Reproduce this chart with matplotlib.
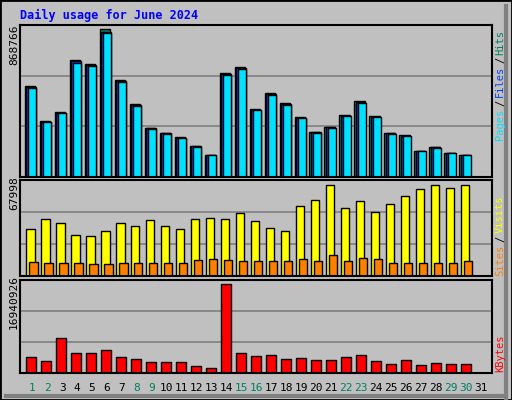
import numpy as np
import matplotlib
matplotlib.use("Agg")
import matplotlib.pyplot as plt

# ---------------- DATA ----------------
days = list(range(1, 32))
hits = [538000, 331000, 384000, 691000, 668000, 868766, 573000, 431000, 290000, 260000,
        236000, 183000, 130000, 615000, 650000, 402000, 496000, 437000, 355000, 266000,
        296000, 366000, 449000, 360000, 260000, 248000, 154000, 177000, 142000, 130000, 0]
files = [h * 0.985 for h in hits]
pages = [h * 0.975 for h in hits]
visits = [35000, 43000, 40000, 30500, 30000, 33600, 39500, 37400, 41800, 37400,
          35000, 42500, 43200, 42500, 47000, 41000, 36000, 33600, 52300, 56800,
          67998, 51000, 56000, 47800, 53800, 59700, 65600, 68000, 66400, 68000, 0]
sites = [10500, 10000, 10000, 10000, 9000, 9000, 10000, 9500, 9500, 9500,
         10000, 12000, 13000, 12000, 11000, 11000, 11000, 11000, 13000, 11000,
         16000, 11000, 13500, 13000, 10000, 10000, 9500, 10000, 10000, 11000, 0]
kbytes = [3080000, 2310000, 6740000, 3850000, 3850000, 4430000, 3080000, 2700000, 2120000, 2120000,
          2120000, 1350000, 960000, 16940926, 3850000, 3270000, 3470000, 2700000, 2890000, 2500000,
          2500000, 3080000, 3470000, 2310000, 1730000, 2500000, 1540000, 1920000, 1730000, 1730000, 0]
weekend = {1, 2, 8, 9, 15, 16, 22, 23, 29, 30}

W, H = 512, 400
BG = "#C0C0C0"
fig = plt.figure(figsize=(W / 100, H / 100), dpi=100, facecolor=BG)

def px_axes(x0, y0, x1, y1):
    ax = fig.add_axes([x0 / W, 1 - y1 / H, (x1 - x0) / W, (y1 - y0) / H])
    ax.set_facecolor(BG)
    ax.set_xlim(0.25, 31.75)
    ax.set_xticks([])
    ax.set_yticks([])
    for s in ax.spines.values():
        s.set_color("black")
        s.set_linewidth(1.5)
    return ax

x = np.array(days)

# top panel
ax1 = px_axes(20, 25, 492, 177)
ymax1 = max(hits) * 1.03
ax1.set_ylim(0, ymax1)
for g in (ymax1 / 3, 2 * ymax1 / 3):
    ax1.axhline(g, color="#808080", lw=1.2, zorder=0)
ax1.bar(x - 0.08, hits, 0.7, color="#00805F", edgecolor="black", lw=1)
ax1.bar(x - 0.02, files, 0.65, color="#0040FF", edgecolor="black", lw=1)
ax1.bar(x + 0.07, pages, 0.55, color="#00E0FF", edgecolor="black", lw=1)

# middle panel
ax2 = px_axes(20, 180, 492, 276)
ymax2 = max(visits) * 1.06
ax2.set_ylim(0, ymax2)
for g in (ymax2 / 3, 2 * ymax2 / 3):
    ax2.axhline(g, color="#808080", lw=1.2, zorder=0)
ax2.bar(x - 0.05, visits, 0.55, color="#FFFF00", edgecolor="black", lw=1)
ax2.bar(x + 0.15, sites, 0.55, color="#FF8000", edgecolor="black", lw=1)

# bottom panel
ax3 = px_axes(20, 280, 492, 373)
ymax3 = max(kbytes) * 1.05
ax3.set_ylim(0, ymax3)
for g in (ymax3 / 3, 2 * ymax3 / 3):
    ax3.axhline(g, color="#808080", lw=1.2, zorder=0)
ax3.bar(x, kbytes, 0.68, color="#FF0000", edgecolor="black", lw=1)

mono = "DejaVu Sans Mono"
fig.text(20 / W, 1 - 15 / H, "Daily usage for June 2024", color="#0000FF",
         fontsize=8.5, fontweight="bold", family=mono, va="center")

# max labels on the left
fig.text(14 / W, 1 - 45 / H, "868766", rotation=90, fontsize=8, family=mono, ha="center", va="center")
fig.text(14 / W, 1 - 193 / H, "67998", rotation=90, fontsize=8, family=mono, ha="center", va="center")
fig.text(14 / W, 1 - 302 / H, "16940926", rotation=90, fontsize=8, family=mono, ha="center", va="center")

# right side legends
def vlabel(parts, y_bottom):
    y = y_bottom
    for txt, col in parts:
        fig.text(500 / W, 1 - y / H, txt, rotation=90, color=col, fontsize=7.5,
                 family=mono, ha="center", va="bottom")
        y -= len(txt) * 6.6 + 1.5

vlabel([("Pages", "#00E0FF"), ("/", "black"), ("Files", "#0040FF"), ("/", "black"), ("Hits", "#00805F")], 140)
vlabel([("Sites", "#FF8000"), ("/", "black"), ("Visits", "#FFFF00")], 276)
vlabel([("KBytes", "#FF0000")], 372)

# day labels
for d in days:
    xp = 21 + (d - 0.25) / 31.5 * 471
    fig.text(xp / W, 1 - 388 / H, str(d), color="#008060" if d in weekend else "black",
             fontsize=8, family=mono, ha="center", va="center")

# outer frame
fig.add_artist(plt.Rectangle((0, 0), 1, 1, transform=fig.transFigure, fill=False,
                             edgecolor="black", lw=2))
fig.add_artist(plt.Line2D([506 / W, 506 / W], [0, 1 - 6 / H], color="#808080", lw=3, transform=fig.transFigure))
fig.add_artist(plt.Line2D([6 / W, 506 / W], [4 / H, 4 / H], color="#808080", lw=3, transform=fig.transFigure))

fig.savefig("out.png", dpi=100, facecolor=BG)
